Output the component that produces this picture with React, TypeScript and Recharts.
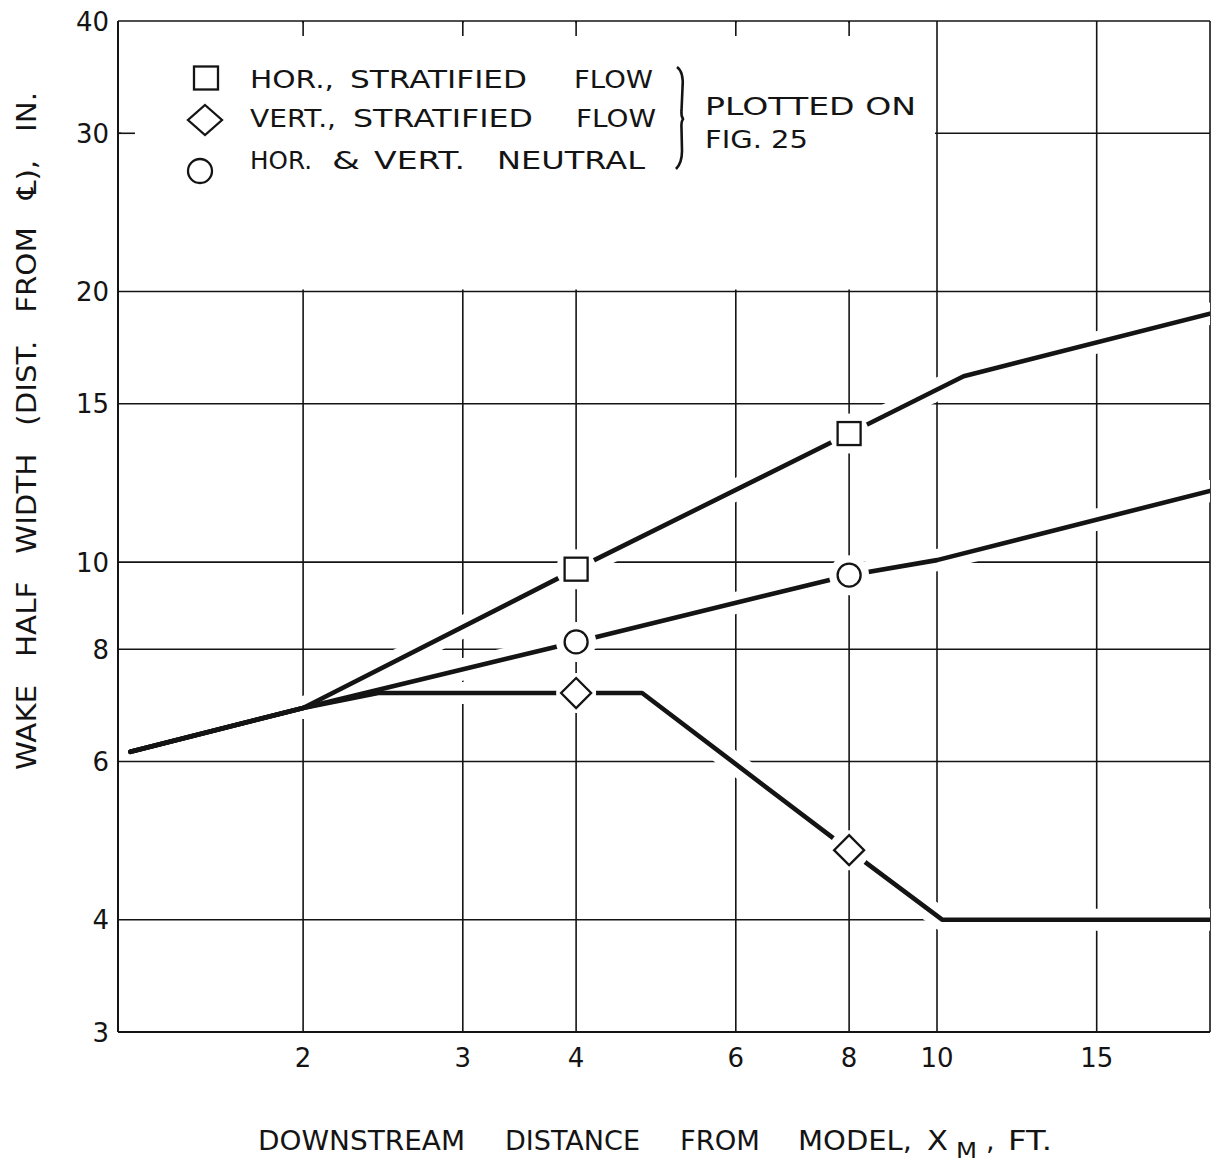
import React from 'react';
import {
  ComposedChart,
  Line,
  Scatter,
  XAxis,
  YAxis,
  CartesianGrid,
  ReferenceArea,
  ReferenceLine,
} from 'recharts';

const INK = '#141414';
const FONT = '"DejaVu Sans", "Liberation Sans", sans-serif';

// Log-log paper: downstream distance (ft) against wake half width (in.)
const X_MIN = 1.25;
const X_MAX = 20;
const Y_MIN = 3;
const Y_MAX = 40;

const xTicks = [2, 3, 4, 6, 8, 10, 15];
const yTicks = [3, 4, 6, 8, 10, 15, 20, 30, 40];

// Faired curves
const horStratifiedCurve = [
  { x: 1.29, y: 6.15 },
  { x: 2, y: 6.88 },
  { x: 4, y: 9.82 },
  { x: 8, y: 13.9 },
  { x: 10.7, y: 16.1 },
  { x: 20, y: 18.9 },
];

const vertStratifiedCurve = [
  { x: 1.29, y: 6.15 },
  { x: 2, y: 6.88 },
  { x: 2.42, y: 7.15 },
  { x: 4, y: 7.15 },
  { x: 4.73, y: 7.15 },
  { x: 8, y: 4.78 },
  { x: 10.13, y: 4.0 },
  { x: 20, y: 4.0 },
];

const neutralCurve = [
  { x: 1.29, y: 6.15 },
  { x: 2, y: 6.88 },
  { x: 4, y: 8.15 },
  { x: 8, y: 9.67 },
  { x: 10, y: 10.05 },
  { x: 20, y: 12.0 },
];

// Measured points
const horStratifiedPoints = [
  { x: 4, y: 9.82 },
  { x: 8, y: 13.9 },
];
const vertStratifiedPoints = [
  { x: 4, y: 7.15 },
  { x: 8, y: 4.78 },
];
const neutralPoints = [
  { x: 4, y: 8.15 },
  { x: 8, y: 9.67 },
];

const seriesNames = ['HOR., STRATIFIED FLOW', 'VERT., STRATIFIED FLOW', 'HOR. & VERT. NEUTRAL'];
const noteLines = ['PLOTTED ON', 'FIG. 25'];
const yTitle = 'WAKE HALF WIDTH (DIST. FROM \u2104), IN.';
const xTitleWords = ['DOWNSTREAM', 'DISTANCE', 'FROM', 'MODEL,', 'X'];
const xTitleSub = 'M';
const xTitleTail = ['FT.'];

// Ruling of the paper: above 20 in. the block left of 10 ft holds the legend,
// so only short stubs are ruled there (along the top edge and at 30 in.).
const blankBlock = { x1: 1.26, x2: 9.95, y1: 20.1, y2: 39.8 };
const stubVerticals = xTicks.filter((v) => v < 10);
const TOP_STUB_END = 38.5;
const LEFT_STUB_END = 1.305;

// ---------------------------------------------------------------- layout
const W = 1214;
const H = 1162;
const GAP_R = 20;

const legendLayout = {
  markerX: [206, 205, 200],
  markerY: [78, 120, 171],
  baseline: [88, 127, 169],
  words: [
    [[250, 334], [350, 527], [574, 653]],
    [[250, 336], [353, 533], [576, 656]],
    [[250, 312], [332, 360], [374, 465], [497, 645]],
  ],
};

const SquareMark = ({ cx, cy }: any) => (
  <g>
    <circle cx={cx} cy={cy} r={GAP_R} fill="#fff" />
    <rect x={cx - 11.5} y={cy - 11.5} width={23} height={23} fill="#fff" stroke={INK} strokeWidth={2.3} />
  </g>
);

const DiamondMark = ({ cx, cy }: any) => (
  <g>
    <circle cx={cx} cy={cy} r={GAP_R} fill="#fff" />
    <path
      d={`M${cx} ${cy - 15} L${cx + 15} ${cy} L${cx} ${cy + 15} L${cx - 15} ${cy} Z`}
      fill="#fff"
      stroke={INK}
      strokeWidth={2.3}
      strokeLinejoin="miter"
    />
  </g>
);

const CircleMark = ({ cx, cy }: any) => (
  <g>
    <circle cx={cx} cy={cy} r={GAP_R} fill="#fff" />
    <circle cx={cx} cy={cy} r={11.5} fill="#fff" stroke={INK} strokeWidth={2.3} />
  </g>
);

const markShapes = [SquareMark, DiamondMark, CircleMark];

const XTick = ({ x, y, payload }: any) => (
  <text x={x} y={y + 35} textAnchor="middle" fontSize={26} fontFamily={FONT} fill={INK}>
    {payload.value}
  </text>
);

const YTick = ({ x, y, payload }: any) => (
  <text x={x - 9} y={y + 9.5} textAnchor="end" fontSize={26} fontFamily={FONT} fill={INK}>
    {payload.value}
  </text>
);

const Word = ({ text, x0, x1, y, size = 25 }: any) => (
  <text
    x={x0}
    y={y}
    fontSize={size}
    fontFamily={FONT}
    fill={INK}
    textLength={x1 - x0}
    lengthAdjust="spacingAndGlyphs"
  >
    {text}
  </text>
);

const LegendBlock = () => (
  <g>
    {seriesNames.map((name, i) => {
      const words = name.split(' ');
      const mx = legendLayout.markerX[i];
      const my = legendLayout.markerY[i];
      return (
        <g key={name}>
          {i === 0 && (
            <rect x={mx - 12} y={my - 11.5} width={24} height={23} fill="#fff" stroke={INK} strokeWidth={2.3} />
          )}
          {i === 1 && (
            <path d={`M${mx} ${my - 15} l17 15 l-17 15 l-17 -15 Z`} fill="#fff" stroke={INK} strokeWidth={2.3} />
          )}
          {i === 2 && <circle cx={mx} cy={my} r={12} fill="#fff" stroke={INK} strokeWidth={2.3} />}
          {words.map((w, j) => (
            <Word
              key={j}
              text={w}
              x0={legendLayout.words[i][j][0]}
              x1={legendLayout.words[i][j][1]}
              y={legendLayout.baseline[i]}
            />
          ))}
        </g>
      );
    })}
    <path
      d="M677 67 Q684 72 682.5 88 L681.5 111 Q681 116 683 119 Q681 122 681.5 128 L682 151 Q682 163 676 169"
      fill="none"
      stroke={INK}
      strokeWidth={2.6}
    />
    <Word text={noteLines[0]} x0={705} x1={916} y={115} />
    <Word text={noteLines[1]} x0={705} x1={808} y={148} />
  </g>
);

const AxisTitles = () => {
  const spans = [[258, 465], [505, 640], [680, 760], [798, 912], [927, 948]];
  return (
    <g>
      <text
        transform="translate(36,431) rotate(-90)"
        textAnchor="middle"
        fontSize={27}
        fontFamily={FONT}
        fill={INK}
        textLength={678}
        lengthAdjust="spacingAndGlyphs"
        xmlSpace="preserve"
        style={{ whiteSpace: 'pre' }}
      >
        {yTitle.split(' ').join('   ')}
      </text>
      {xTitleWords.map((w, i) => (
        <Word key={w} text={w} x0={spans[i][0]} x1={spans[i][1]} y={1150} size={27} />
      ))}
      <Word text={xTitleSub} x0={956} x1={977} y={1158} size={22} />
      <text x={986} y={1150} fontSize={27} fontFamily={FONT} fill={INK}>,</text>
      <Word text={xTitleTail[0]} x0={1008} x1={1052} y={1150} size={27} />
    </g>
  );
};

const curves = [horStratifiedCurve, vertStratifiedCurve, neutralCurve];
const haloCurves = curves.map((c) => c.slice(1));
const points = [horStratifiedPoints, vertStratifiedPoints, neutralPoints];

export default function App() {
  return (
    <div style={{ position: 'absolute', left: 0, top: 0, width: W, height: H, background: '#fff' }}>
      <ComposedChart width={W} height={H} margin={{ top: 21, right: 4, bottom: 70, left: 18 }}>
        <CartesianGrid stroke={INK} strokeWidth={1.6} />
        <ReferenceArea
          x1={blankBlock.x1}
          x2={blankBlock.x2}
          y1={blankBlock.y1}
          y2={blankBlock.y2}
          fill="#fff"
          fillOpacity={1}
          stroke="none"
        />
        {stubVerticals.map((v) => (
          <ReferenceLine
            key={'tv' + v}
            segment={[
              { x: v, y: TOP_STUB_END },
              { x: v, y: Y_MAX },
            ]}
            stroke={INK}
            strokeWidth={1.6}
          />
        ))}
        <ReferenceLine
          segment={[
            { x: X_MIN, y: 30 },
            { x: LEFT_STUB_END, y: 30 },
          ]}
          stroke={INK}
          strokeWidth={1.6}
        />
        <XAxis
          dataKey="x"
          type="number"
          scale="log"
          domain={[X_MIN, X_MAX]}
          allowDataOverflow
          ticks={xTicks}
          interval={0}
          height={60}
          tickSize={0}
          tickMargin={0}
          tickLine={false}
          axisLine={{ stroke: INK, strokeWidth: 2 }}
          tick={<XTick />}
        />
        <XAxis
          xAxisId="top"
          orientation="top"
          type="number"
          scale="log"
          domain={[X_MIN, X_MAX]}
          allowDataOverflow
          height={0}
          tick={false}
          tickLine={false}
          axisLine={{ stroke: INK, strokeWidth: 2 }}
        />
        <YAxis
          dataKey="y"
          type="number"
          scale="log"
          domain={[Y_MIN, Y_MAX]}
          allowDataOverflow
          ticks={yTicks}
          interval={0}
          width={100}
          tickSize={0}
          tickMargin={0}
          tickLine={false}
          axisLine={{ stroke: INK, strokeWidth: 2 }}
          tick={<YTick />}
        />
        <YAxis
          yAxisId="right"
          orientation="right"
          type="number"
          scale="log"
          domain={[Y_MIN, Y_MAX]}
          allowDataOverflow
          width={0}
          tick={false}
          tickLine={false}
          axisLine={{ stroke: INK, strokeWidth: 2 }}
        />
        {haloCurves.map((c, i) => (
          <Line
            key={'halo' + i}
            data={c}
            dataKey="y"
            type="linear"
            stroke="#fff"
            strokeWidth={22}
            strokeLinecap="round"
            strokeLinejoin="round"
            dot={false}
            activeDot={false}
            isAnimationActive={false}
            legendType="none"
          />
        ))}
        {curves.map((c, i) => (
          <Line
            key={'curve' + i}
            name={seriesNames[i]}
            data={c}
            dataKey="y"
            type="linear"
            stroke={INK}
            strokeWidth={4.6}
            strokeLinecap="round"
            strokeLinejoin="round"
            dot={false}
            activeDot={false}
            isAnimationActive={false}
          />
        ))}
        {points.map((p, i) => {
          const Shape = markShapes[i];
          return (
            <Scatter
              key={'pts' + i}
              name={seriesNames[i]}
              data={p}
              dataKey="y"
              isAnimationActive={false}
              shape={(props: any) => <Shape {...props} />}
            />
          );
        })}
      </ComposedChart>
      <svg
        width={W}
        height={H}
        style={{ position: 'absolute', left: 0, top: 0, pointerEvents: 'none' }}
      >
        <LegendBlock />
        <AxisTitles />
      </svg>
    </div>
  );
}
